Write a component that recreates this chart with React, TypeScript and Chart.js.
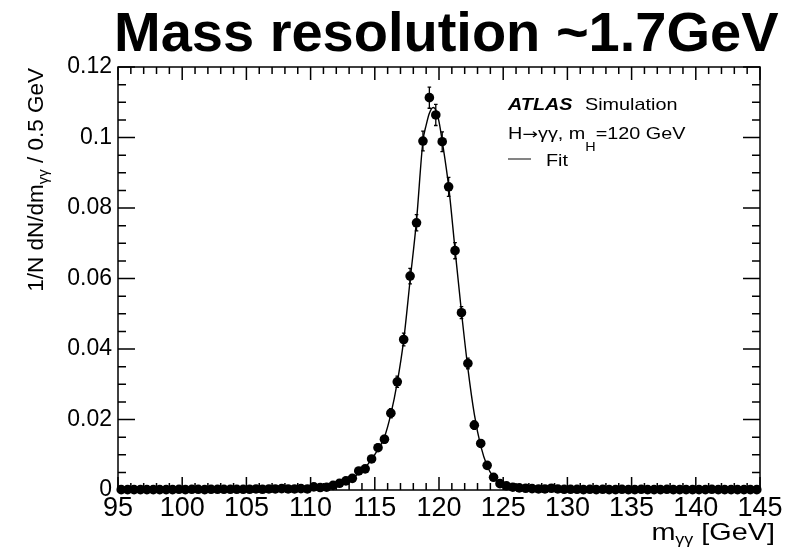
import React, { useEffect, useRef } from "react";
import { Chart, registerables } from "chart.js";

Chart.register(...registerables);

const TITLE = "Mass resolution ~1.7GeV";
const BIN_LOW = 95;
const BIN_WIDTH = 0.5;
const X_MIN = 95;
const X_MAX = 145;
const Y_MIN = 0;
const Y_MAX = 0.12;
const X_MAJOR = 5;
const X_MINOR = 1;
const Y_MAJOR = 0.02;
const Y_MINOR = 0.005;

// normalised counts per 0.5 GeV bin, 95 -> 145 GeV (100 bins)
const values = [
  0.0001, 0.0001, 0.0001, 0.0001, 0.0001, 0.0001, 0.0001, 0.0001, 0.0001, 0.0002,
  0.0001, 0.0002, 0.0002, 0.0001, 0.0002, 0.0002, 0.0002, 0.0002, 0.0002, 0.0002,
  0.0002, 0.0003, 0.0002, 0.0003, 0.0003, 0.0004, 0.0003, 0.0003, 0.0004, 0.0003,
  0.0009, 0.0007, 0.0008, 0.0013, 0.0019, 0.0026, 0.0033, 0.0054, 0.0060, 0.0088,
  0.0120, 0.0144, 0.0218, 0.0307, 0.0427, 0.0607, 0.0758, 0.0990, 0.1113, 0.1064,
  0.0988, 0.0860, 0.0679, 0.0503, 0.0359, 0.0184, 0.0132, 0.0070, 0.0036, 0.0018,
  0.0012, 0.0008, 0.0006, 0.0005, 0.0004, 0.0003, 0.0003, 0.0005, 0.0003, 0.0002,
  0.0002, 0.0002, 0.0001, 0.0002, 0.0001, 0.0002, 0.0001, 0.0001, 0.0002, 0.0001,
  0.0001, 0.0002, 0.0001, 0.0001, 0.0001, 0.0002, 0.0001, 0.0001, 0.0001, 0.0001,
  0.0001, 0.0001, 0.0002, 0.0001, 0.0001, 0.0001, 0.0001, 0.0001, 0.0001, 0.0001,
];

const errors = [
  0.0001, 0.0001, 0.0001, 0.0001, 0.0001, 0.0001, 0.0001, 0.0001, 0.0001, 0.0001,
  0.0001, 0.0001, 0.0001, 0.0001, 0.0001, 0.0001, 0.0001, 0.0001, 0.0001, 0.0001,
  0.0001, 0.0002, 0.0001, 0.0002, 0.0002, 0.0002, 0.0002, 0.0002, 0.0002, 0.0002,
  0.0003, 0.0002, 0.0003, 0.0003, 0.0004, 0.0005, 0.0005, 0.0007, 0.0007, 0.0009,
  0.0010, 0.0011, 0.0013, 0.0016, 0.0018, 0.0022, 0.0023, 0.0028, 0.0030, 0.0030,
  0.0028, 0.0027, 0.0023, 0.0017, 0.0015, 0.0012, 0.0010, 0.0008, 0.0005, 0.0004,
  0.0003, 0.0003, 0.0002, 0.0002, 0.0002, 0.0002, 0.0002, 0.0002, 0.0002, 0.0001,
  0.0001, 0.0001, 0.0001, 0.0001, 0.0001, 0.0001, 0.0001, 0.0001, 0.0001, 0.0001,
  0.0001, 0.0001, 0.0001, 0.0001, 0.0001, 0.0001, 0.0001, 0.0001, 0.0001, 0.0001,
  0.0001, 0.0001, 0.0001, 0.0001, 0.0001, 0.0001, 0.0001, 0.0001, 0.0001, 0.0001,
];

// fitted curve
const fitX = [
  95, 100, 105, 109, 110.5, 111.25, 111.75, 112.25, 112.75, 113.25, 113.75, 114.25,
  114.75, 115.25, 115.75, 116.25, 116.75, 117.25, 117.75, 118.25, 118.75, 119.0,
  119.25, 119.55, 119.75, 120.0, 120.25, 120.75, 121.25, 121.75, 122.25, 122.75,
  123.25, 123.75, 124.25, 124.75, 125.25, 125.75, 126.5, 128, 132, 145,
];
const fitY = [
  0.0001, 0.0001, 0.0002, 0.0004, 0.0006, 0.0009, 0.0013, 0.0018, 0.0025, 0.0034, 0.0047, 0.0064,
  0.0087, 0.0115, 0.0150, 0.0215, 0.0305, 0.0425, 0.0595, 0.0765, 0.0990, 0.1035,
  0.1069, 0.1085, 0.1078, 0.1045, 0.0990, 0.0862, 0.0682, 0.0505, 0.0345, 0.0215,
  0.0125, 0.0068, 0.0036, 0.0019, 0.0011, 0.0007, 0.0004, 0.0003, 0.0002, 0.0001,
];

const LEGEND_LINE1_BOLD = "ATLAS";
const LEGEND_LINE1 = "Simulation";
const LEGEND_LINE2_H = "H";
const LEGEND_LINE2_ARROW = "\u2192";
const LEGEND_LINE2_A = "\u03b3\u03b3, m";
const LEGEND_LINE2_SUB = "H";
const LEGEND_LINE2_B = "=120 GeV";
const LEGEND_FIT = "Fit";
const Y_TITLE_A = "1/N dN/dm";
const Y_TITLE_SUB = "\u03b3\u03b3";
const Y_TITLE_B = " / 0.5 GeV";
const X_TITLE_A = "m";
const X_TITLE_SUB = "\u03b3\u03b3";
const X_TITLE_B = " [GeV]";

const SANS = '"Liberation Sans", Arial, Helvetica, sans-serif';

function drawText(
  ctx: CanvasRenderingContext2D,
  s: string,
  x: number,
  y: number,
  font: string,
  sx = 1
): number {
  ctx.save();
  ctx.font = font;
  ctx.textAlign = "left";
  ctx.textBaseline = "alphabetic";
  ctx.fillStyle = "#000";
  ctx.translate(x, y);
  ctx.scale(sx, 1);
  ctx.fillText(s, 0, 0);
  const w = ctx.measureText(s).width * sx;
  ctx.restore();
  return w;
}

function measure(ctx: CanvasRenderingContext2D, s: string, font: string, sx = 1) {
  ctx.save();
  ctx.font = font;
  const w = ctx.measureText(s).width * sx;
  ctx.restore();
  return w;
}

const framePlugin = {
  id: "frameTicks",
  beforeDatasetsDraw(chart: any) {
    const { ctx, chartArea: a, scales } = chart;
    const x = scales.x;
    const y = scales.y;
    ctx.save();
    ctx.strokeStyle = "#000";
    ctx.lineWidth = 1.5;
    ctx.strokeRect(a.left, a.top, a.right - a.left, a.bottom - a.top);
    ctx.beginPath();
    const nx = Math.round((X_MAX - X_MIN) / X_MINOR);
    for (let i = 0; i <= nx; i++) {
      const v = X_MIN + i * X_MINOR;
      const px = x.getPixelForValue(v);
      const major = Math.abs(v / X_MAJOR - Math.round(v / X_MAJOR)) < 1e-6;
      const len = major ? 13 : 7;
      ctx.moveTo(px, a.bottom);
      ctx.lineTo(px, a.bottom - len);
      ctx.moveTo(px, a.top);
      ctx.lineTo(px, a.top + len);
    }
    const ny = Math.round((Y_MAX - Y_MIN) / Y_MINOR);
    for (let i = 0; i <= ny; i++) {
      const v = Y_MIN + i * Y_MINOR;
      const py = y.getPixelForValue(v);
      const major = i % Math.round(Y_MAJOR / Y_MINOR) === 0;
      const len = major ? 17 : 8;
      ctx.moveTo(a.left, py);
      ctx.lineTo(a.left + len, py);
      ctx.moveTo(a.right, py);
      ctx.lineTo(a.right - len, py);
    }
    ctx.stroke();

    // error bars
    const ds = chart.data.datasets[1];
    ctx.lineWidth = 1.3;
    ctx.beginPath();
    ds.data.forEach((p: any, i: number) => {
      const e = errors[i];
      const px = x.getPixelForValue(p.x);
      const top = y.getPixelForValue(p.y + e);
      const bot = y.getPixelForValue(Math.max(0, p.y - e));
      ctx.moveTo(px, top);
      ctx.lineTo(px, bot);
      ctx.moveTo(px - 1.8, top);
      ctx.lineTo(px + 1.8, top);
      ctx.moveTo(px - 1.8, bot);
      ctx.lineTo(px + 1.8, bot);
    });
    ctx.stroke();
    ctx.restore();
  },
  afterDraw(chart: any) {
    const { ctx } = chart;
    ctx.save();
    // title
    drawText(ctx, TITLE, 114, 51, `bold 56px ${SANS}`);

    // legend
    const lf = `16.5px ${SANS}`;
    const sx = 1.2;
    drawText(ctx, LEGEND_LINE1_BOLD, 508, 110, `italic bold 16.5px ${SANS}`, sx);
    drawText(ctx, LEGEND_LINE1, 585, 110, lf, sx);
    let cx = 508;
    cx += drawText(ctx, LEGEND_LINE2_H, cx, 139, lf, sx);
    cx += drawText(ctx, LEGEND_LINE2_ARROW, cx, 139, `15px "DejaVu Sans", sans-serif`, 1.25);
    cx += drawText(ctx, LEGEND_LINE2_A, cx, 139, lf, sx);
    cx += drawText(ctx, LEGEND_LINE2_SUB, cx, 151, `12px ${SANS}`, sx);
    drawText(ctx, LEGEND_LINE2_B, cx, 139, lf, sx);
    ctx.strokeStyle = "#333";
    ctx.lineWidth = 1.2;
    ctx.beginPath();
    ctx.moveTo(508, 159);
    ctx.lineTo(531, 159);
    ctx.stroke();
    drawText(ctx, LEGEND_FIT, 546, 166, lf, sx);

    // x title (right aligned)
    const xf = `24px ${SANS}`;
    const xsf = `15px ${SANS}`;
    const xsx = 1.2;
    const wx =
      measure(ctx, X_TITLE_A, xf, xsx) +
      measure(ctx, X_TITLE_SUB, xsf, xsx) +
      measure(ctx, X_TITLE_B, xf, xsx);
    let tx = 775 - wx;
    tx += drawText(ctx, X_TITLE_A, tx, 540, xf, xsx);
    tx += drawText(ctx, X_TITLE_SUB, tx, 544, xsf, xsx);
    drawText(ctx, X_TITLE_B, tx, 540, xf, xsx);

    // y title (rotated, right aligned at top of frame)
    const yf = `22.5px ${SANS}`;
    const ysf = `15px ${SANS}`;
    const wy =
      measure(ctx, Y_TITLE_A, yf) + measure(ctx, Y_TITLE_SUB, ysf) + measure(ctx, Y_TITLE_B, yf);
    ctx.save();
    ctx.translate(43, chart.chartArea.top + 1);
    ctx.rotate(-Math.PI / 2);
    let ty = -wy;
    ty += drawText(ctx, Y_TITLE_A, ty, 0, yf);
    ty += drawText(ctx, Y_TITLE_SUB, ty, 5, ysf);
    drawText(ctx, Y_TITLE_B, ty, 0, yf);
    ctx.restore();

    ctx.restore();
  },
};

export default function App() {
  const ref = useRef<HTMLCanvasElement | null>(null);
  useEffect(() => {
    if (!ref.current) return;
    const points = values.map((v, i) => ({ x: BIN_LOW + BIN_WIDTH * (i + 0.5), y: v }));
    const fit = fitX.map((xv, i) => ({ x: xv, y: fitY[i] }));
    const chart = new Chart(ref.current, {
      type: "line",
      data: {
        datasets: [
          {
            label: "Fit",
            data: fit,
            borderColor: "#000",
            borderWidth: 1.4,
            pointRadius: 0,
            fill: false,
            cubicInterpolationMode: "monotone",
            order: 1,
          },
          {
            label: "Simulation",
            data: points,
            showLine: false,
            pointRadius: 4.8,
            pointBackgroundColor: "#000",
            pointBorderColor: "#000",
            pointBorderWidth: 0,
            clip: false,
            order: 0,
          } as any,
        ],
      },
      options: {
        responsive: false,
        animation: false,
        events: [],
        layout: { padding: { top: 67, right: 41, left: 0, bottom: 0 } },
        plugins: { legend: { display: false }, tooltip: { enabled: false }, title: { display: false } },
        scales: {
          x: {
            type: "linear",
            min: X_MIN,
            max: X_MAX,
            grid: { display: false, drawTicks: false },
            border: { display: false },
            afterFit: (s: any) => {
              s.height = 57;
            },
            ticks: {
              stepSize: X_MAJOR,
              autoSkip: false,
              maxRotation: 0,
              padding: 2,
              color: "#000",
              font: { family: SANS, size: 27 },
              callback: (v: any) => String(v),
            },
          },
          y: {
            type: "linear",
            min: Y_MIN,
            max: Y_MAX,
            grid: { display: false, drawTicks: false },
            border: { display: false },
            afterFit: (s: any) => {
              s.width = 118;
            },
            ticks: {
              stepSize: Y_MAJOR,
              padding: 6,
              color: "#000",
              font: { family: SANS, size: 23 },
              callback: (v: any) => String(Number(Number(v).toFixed(2))),
            },
          },
        },
      },
      plugins: [framePlugin],
    });
    return () => chart.destroy();
  }, []);
  return (
    <canvas
      ref={ref}
      width={801}
      height={547}
      style={{ position: "fixed", left: 0, top: 0, width: 801, height: 547 }}
    />
  );
}
